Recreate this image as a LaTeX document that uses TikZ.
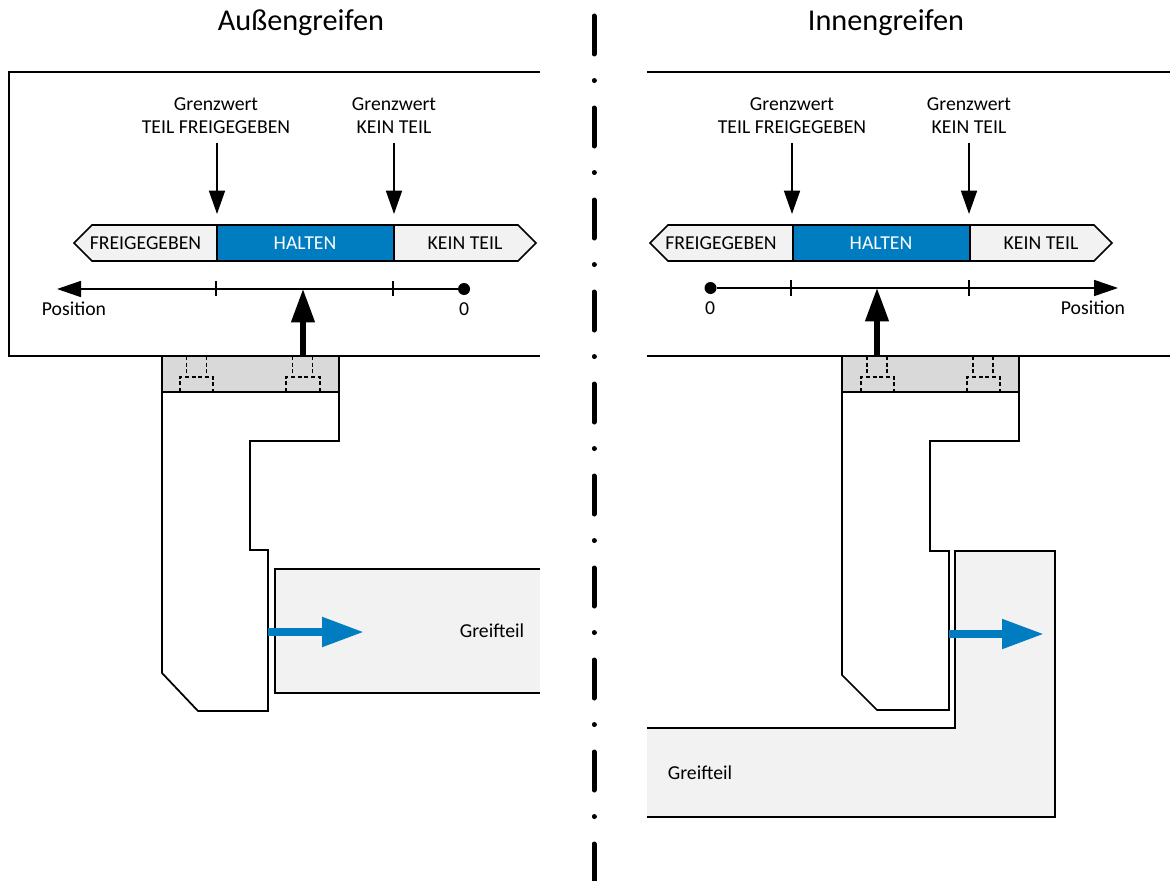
\documentclass[tikz,border=0pt]{standalone}
\usepackage{fontspec}
\setmainfont{Carlito}
\usetikzlibrary{arrows.meta}
\definecolor{brandblue}{HTML}{007CC0}
\definecolor{partgray}{HTML}{F2F2F2}
\definecolor{topgray}{HTML}{D9D9D9}
\tikzset{
  px/.style={x=0.75pt,y=-0.75pt},
  line/.style={draw=black,line width=1.3pt},
  lbl/.style={inner sep=0pt,font=\fontsize{14.8}{17.2}\selectfont,align=center},
  ttl/.style={inner sep=0pt,font=\fontsize{22.7}{26}\selectfont},
  barlbl/.style={inner sep=0pt,font=\fontsize{14.8}{17}\selectfont},
  tick/.style={draw=black,line width=1.1pt},
  dash line/.style={draw=black,line width=0.8pt,dash pattern=on 3pt off 2pt},
  limitarrow/.style={draw=black,line width=1.25pt,-{Triangle[length=17.5pt,width=12pt]}},
  axisarrow/.style={draw=black,line width=1.25pt,-{Triangle[length=18pt,width=12pt]}},
  thickarrow/.style={draw=black,line width=4pt,-{Triangle[length=25pt,width=17pt]}},
  bluearrow/.style={draw=brandblue,line width=6pt,-{Triangle[length=31.5pt,width=21pt]}},
  axisdot/.style={circle,fill=black,inner sep=0pt,minimum size=9pt},
}
\begin{document}
\begin{tikzpicture}[px]
\useasboundingbox (0,0) rectangle (1170,881);
\fill[white] (0,0) rectangle (1170,881);

% centre line
\coordinate (ctop) at (594,16);
\coordinate (cbot) at (594,881);
\draw[line width=3.75pt,line cap=round,dash pattern=on 28.5pt off 19.9pt on 0.01pt off 20.59pt] (ctop) -- (cbot);

% titles
\node[ttl] (titleL) at (301,23) {Außengreifen};
\node[ttl] (titleR) at (886,23) {Innengreifen};

% panels
\draw[line] (540,72) -- (9,72) -- (9,356) -- (540,356);
\draw[line] (647,72) -- (1170,72);
\draw[line] (647,356) -- (1170,356);

% ---------- left scale ----------
\filldraw[line,fill=partgray] (74,243) -- (92,225) -- (217,225) -- (217,261) -- (92,261) -- cycle;
\filldraw[line,fill=partgray] (394,225) -- (518,225) -- (536,243) -- (518,261) -- (394,261) -- cycle;
\filldraw[line,fill=brandblue] (217,225) rectangle (394,261);
\node[barlbl] (frL) at (145.5,243) {FREIGEGEBEN};
\node[barlbl,text=white] (haL) at (305,243) {HALTEN};
\node[barlbl] (keL) at (465,243) {KEIN TEIL};

\node[lbl] (g1L) at (216,115.5) {Grenzwert\\TEIL FREIGEGEBEN};
\node[lbl] (g2L) at (394,115.5) {Grenzwert\\KEIN TEIL};
\coordinate (a1Ls) at (217,143); \coordinate (a1Le) at (217,214);
\coordinate (a2Ls) at (394,143); \coordinate (a2Le) at (394,214);
\draw[limitarrow] (a1Ls) -- (a1Le);
\draw[limitarrow] (a2Ls) -- (a2Le);

\node[axisdot] (zeroL) at (464,289) {};
\coordinate (axL) at (57,289);
\draw[axisarrow] (zeroL) -- (axL);
\draw[tick] (216,281) -- (216,296);
\draw[tick] (393,281) -- (393,296);
\node[barlbl] (posL) at (74,309) {Position};
\node[barlbl] (zL) at (464,309) {0};

% ---------- right scale ----------
\filldraw[line,fill=partgray] (650,243) -- (668,225) -- (793,225) -- (793,261) -- (668,261) -- cycle;
\filldraw[line,fill=partgray] (970,225) -- (1094,225) -- (1112,243) -- (1094,261) -- (970,261) -- cycle;
\filldraw[line,fill=brandblue] (793,225) rectangle (970,261);
\node[barlbl] (frR) at (721,243) {FREIGEGEBEN};
\node[barlbl,text=white] (haR) at (881,243) {HALTEN};
\node[barlbl] (keR) at (1041,243) {KEIN TEIL};

\node[lbl] (g1R) at (792,115.5) {Grenzwert\\TEIL FREIGEGEBEN};
\node[lbl] (g2R) at (969,115.5) {Grenzwert\\KEIN TEIL};
\coordinate (a1Rs) at (792,143); \coordinate (a1Re) at (792,214);
\coordinate (a2Rs) at (969,143); \coordinate (a2Re) at (969,214);
\draw[limitarrow] (a1Rs) -- (a1Re);
\draw[limitarrow] (a2Rs) -- (a2Re);

\node[axisdot] (zeroR) at (710.5,288) {};
\coordinate (axR) at (1118,288);
\draw[axisarrow] (zeroR) -- (axR);
\draw[tick] (791,280) -- (791,296);
\draw[tick] (969,280) -- (969,296);
\node[barlbl] (posR) at (1093,308) {Position};
\node[barlbl] (zR) at (710,308) {0};

% ---------- left gripper ----------
\filldraw[line,fill=topgray] (162,356) rectangle (339,392);
\draw[line] (162,392) -- (162,673) -- (198,711) -- (268,711) -- (268,550) -- (250,550) -- (250,441) -- (339,441) -- (339,392);
\draw[dash line] (186.5,356) -- (186.5,377) (206.5,356) -- (206.5,377);
\draw[dash line] (180,392) -- (180,377) -- (213,377) -- (213,392);
\draw[dash line] (292.5,356) -- (292.5,377) (312.5,356) -- (312.5,377);
\draw[dash line] (286,392) -- (286,377) -- (320,377) -- (320,392);

\coordinate (tkLs) at (303,356); \coordinate (tkLe) at (303,289);
\draw[thickarrow] (tkLs) -- (tkLe);

% left part
\fill[partgray] (540,569) -- (275,569) -- (275,693) -- (540,693) -- cycle;
\draw[line] (540,569) -- (275,569) -- (275,693) -- (540,693);
\node[barlbl] (grL) at (492,631) {Greifteil};
\coordinate (blLs) at (268,632); \coordinate (blLe) at (364,632);
\draw[bluearrow] (blLs) -- (blLe);

% ---------- right gripper ----------
\fill[partgray] (647,728) -- (955,728) -- (955,551) -- (1055,551) -- (1055,817) -- (647,817) -- cycle;
\draw[line] (647,728) -- (955,728) -- (955,551) -- (1055,551) -- (1055,817) -- (647,817);
\node[barlbl] (grR) at (700,773) {Greifteil};

\filldraw[line,fill=topgray] (842,356) rectangle (1019,392);
\draw[line] (842,392) -- (842,675) -- (877,710) -- (949,710) -- (949,551) -- (930,551) -- (930,441) -- (1019,441) -- (1019,392);
\draw[dash line] (867,356) -- (867,377) (887,356) -- (887,377);
\draw[dash line] (861,392) -- (861,377) -- (894,377) -- (894,392);
\draw[dash line] (973,356) -- (973,377) (993,356) -- (993,377);
\draw[dash line] (967,392) -- (967,377) -- (1000,377) -- (1000,392);

\coordinate (tkRs) at (877,356); \coordinate (tkRe) at (877,288);
\draw[thickarrow] (tkRs) -- (tkRe);

\coordinate (blRs) at (949,634); \coordinate (blRe) at (1044,634);
\draw[bluearrow] (blRs) -- (blRe);
\end{tikzpicture}
\end{document}
